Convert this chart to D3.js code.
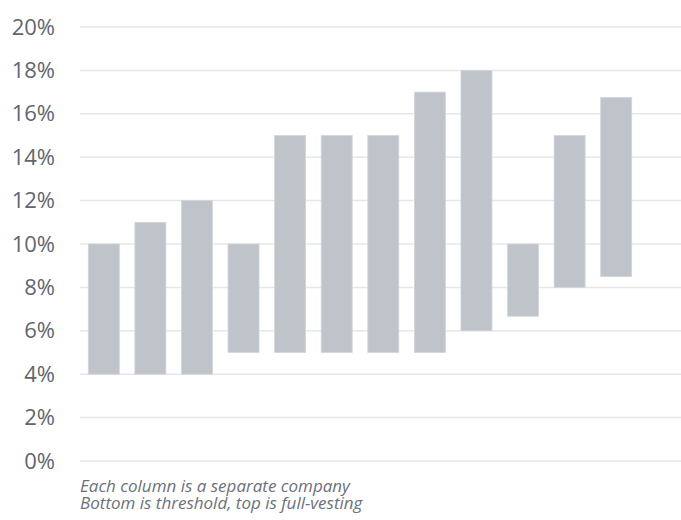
<!DOCTYPE html>
<html>
<head>
<meta charset="utf-8">
<script src="https://cdn.jsdelivr.net/npm/d3@7"></script>
<style>
  html, body { margin: 0; padding: 0; background: #ffffff; }
  svg { display: block; }
</style>
</head>
<body>
<div id="chart"></div>
<script>
// Performance-vesting ranges: each column is one company
const companies = ["A", "B", "C", "D", "E", "F", "G", "H", "I", "J", "K", "L"];
const thresholds = [4, 4, 4, 5, 5, 5, 5, 5, 6, 6.67, 8, 8.5];
const fullVesting = [10, 11, 12, 10, 15, 15, 15, 17, 18, 10, 15, 16.75];
const yTicks = [0, 2, 4, 6, 8, 10, 12, 14, 16, 18, 20];
const notes = [
  "Each column is a separate company",
  "Bottom is threshold, top is full-vesting"
];

const width = 681, height = 520;
const svg = d3.select("#chart").append("svg")
  .attr("width", width).attr("height", height);

const y = d3.scaleLinear().domain([0, 20]).range([461, 27]);
const x = d3.scaleBand().domain(companies)
  .range([80, 640]).paddingInner(0.334).paddingOuter(0.178);

// Gridlines
svg.append("g").selectAll("line").data(yTicks).join("line")
  .attr("x1", 80).attr("x2", width)
  .attr("y1", d => y(d)).attr("y2", d => y(d))
  .attr("stroke", "#e6e7eb").attr("stroke-width", 1.5);

// Y axis labels
const yAxis = d3.axisLeft(y).tickValues(yTicks).tickFormat(d => d + "%").tickSize(0).tickPadding(0);
const ga = svg.append("g").attr("transform", "translate(55,0)").call(yAxis);
ga.select(".domain").remove();
ga.selectAll("text")
  .attr("fill", "#5f6670")
  .style("font-family", "'Open Sans', sans-serif")
  .style("font-size", "22px");

// Range bars
const data = companies.map((c, i) => ({ c, lo: thresholds[i], hi: fullVesting[i] }));
svg.append("g").selectAll("rect").data(data).join("rect")
  .attr("x", d => x(d.c))
  .attr("width", x.bandwidth())
  .attr("y", d => y(d.hi))
  .attr("height", d => y(d.lo) - y(d.hi))
  .attr("fill", "#bfc4cb")
  .attr("stroke", "#d3d6db").attr("stroke-width", 0.8);

// Footnote
svg.append("g").selectAll("text").data(notes).join("text")
  .attr("x", 80)
  .attr("y", (d, i) => 491.5 + i * 17)
  .attr("fill", "#6b717a")
  .style("font-family", "'Open Sans', sans-serif")
  .style("font-style", "italic")
  .style("font-size", "17px")
  .text(d => d);
</script>
</body>
</html>
